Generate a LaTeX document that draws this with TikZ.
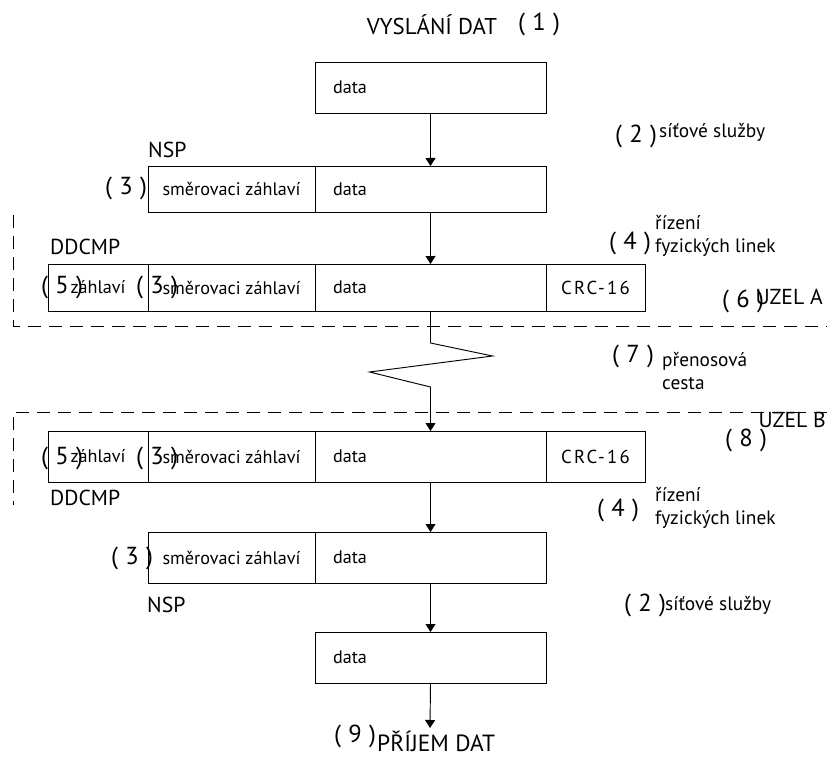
\documentclass[tikz,border=0pt]{standalone}
\usepackage{fontspec}
\setmainfont{PT Sans}
\usetikzlibrary{arrows.meta,positioning}
\newcommand\cis[1]{(\hspace{0.3em}#1\hspace{0.3em})}
\tikzset{
  pkt/.style={draw, line width=0.8pt, anchor=north west, inner sep=0pt, outer sep=0pt, font=\fontsize{15.5}{17}\selectfont},
  datapkt/.style={pkt, text width=5.85cm, inner xsep=0.54cm, align=left},
  crc/.style={pkt, minimum width=2.97cm, font=\fontsize{16}{17}\selectfont\addfontfeature{LetterSpace=12}},
  num/.style={font=\fontsize{21}{22}\selectfont, inner sep=0pt},
  capt/.style={font=\fontsize{18.5}{20}\selectfont, inner sep=0pt},
  note/.style={font=\fontsize{16.5}{19}\selectfont, align=left, inner sep=0pt},
  pre/.style={-{Triangle[length=2.4mm, width=3mm]}, line width=0.8pt},
  uzel/.style={dash pattern=on 0.39cm off 0.24cm, line width=0.7pt},
}
\begin{document}
\begin{tikzpicture}[x=0.03cm,y=-0.03cm]
\useasboundingbox (0,0) rectangle (827,758);
% ---------------- vyslani
\node[capt, font=\fontsize{19.5}{20}\selectfont] (vys) at (432,25) {VYSLÁNÍ DAT};
\node[num] (n1) at (539,24) {\cis{1}};
\node[datapkt, minimum height=1.53cm] (src) at (315,62) {data};
% ---------------- NSP (uzel A)
\node[capt, anchor=west] (nspAl) at (148,150) {NSP};
\node[pkt, minimum width=5.01cm, minimum height=1.38cm] (nspA) at (148,166) {směrovaci záhlaví};
\node[datapkt, minimum height=1.38cm] (nspAd) at (nspA.north east) {data};
\node[num] (n3a) at (126,188) {\cis{3}};
\node[num] (n2a) at (636,136) {\cis{2}};
\node[note, anchor=west] (sluA) at (659,132) {síťové služby};
% ---------------- DDCMP (uzel A)
\node[capt, anchor=west] (ddAl) at (50,247) {DDCMP};
\node[pkt, minimum width=3cm, minimum height=1.41cm] (ddA) at (48,264) {záhlaví};
\node[pkt, minimum width=5.01cm, minimum height=1.41cm] (ddAs) at (ddA.north east) {směrovaci záhlaví};
\node[datapkt, minimum height=1.41cm] (ddAd) at (ddAs.north east) {data};
\node[crc, minimum height=1.41cm] (ddAc) at (ddAd.north east) {CRC-16};
\node[num] (n5a) at (62,287) {\cis{5}};
\node[num] (n3b) at (157,287) {\cis{3}};
\node[num] (n4a) at (630,243) {\cis{4}};
\node[note, anchor=west] (linA) at (655,236) {řízení\\fyzických linek};
\node[num] (n6) at (743,301) {\cis{6}};
\node[capt, anchor=east] (uzA) at (823,297) {UZEL A};
\draw[uzel] (13,215) |- (827,326);
% ---------------- prenosova cesta
\node[num] (n7) at (633,356) {\cis{7}};
\node[note, anchor=west] (cesta) at (662,371) {přenosová\\cesta};
\draw[uzel] (827,412) -| (13,505);
% ---------------- DDCMP (uzel B)
\node[pkt, minimum width=3cm, minimum height=1.53cm] (ddB) at (48,431) {záhlaví};
\node[pkt, minimum width=5.01cm, minimum height=1.53cm] (ddBs) at (ddB.north east) {směrovaci záhlaví};
\node[datapkt, minimum height=1.53cm] (ddBd) at (ddBs.north east) {data};
\node[crc, minimum height=1.53cm] (ddBc) at (ddBd.north east) {CRC-16};
\node[num] (n5b) at (62,458) {\cis{5}};
\node[num] (n3c) at (157,458) {\cis{3}};
\node[num] (n8) at (746,440) {\cis{8}};
\node[capt, anchor=east] (uzB) at (826,420) {UZEL B};
\node[capt, anchor=west] (ddBl) at (50,498) {DDCMP};
\node[num] (n4b) at (618,510) {\cis{4}};
\node[note, anchor=west] (linB) at (655,508) {řízení\\fyzických linek};
% ---------------- NSP (uzel B)
\node[pkt, minimum width=5.01cm, minimum height=1.53cm] (nspB) at (148,532) {směrovaci záhlaví};
\node[datapkt, minimum height=1.53cm] (nspBd) at (nspB.north east) {data};
\node[num] (n3d) at (132,558) {\cis{3}};
\node[capt, anchor=west] (nspBl) at (147,605) {NSP};
\node[num] (n2b) at (645,605) {\cis{2}};
\node[note, anchor=west] (sluB) at (665,605) {síťové služby};
% ---------------- prijem
\node[datapkt, minimum height=1.53cm] (dst) at (315,632) {data};
\coordinate (rcv) at (430,728);
\node[num] (n9) at (355,736) {\cis{9}};
\node[capt, font=\fontsize{20}{21}\selectfont, anchor=base west] (prij) at (377,751) {PŘÍJEM DAT};
% ---------------- sipky
\draw[pre] (src.south) -- (nspAd.north);
\draw[pre] (nspAd.south) -- (ddAd.north);
\draw[pre] (ddAd.south) -- ++(0,32) -- ++(62,13) -- ++(-123,16) -- ++(61,15) -- (ddBd.north);
\draw[pre] (ddBd.south) -- (nspBd.north);
\draw[pre] (nspBd.south) -- (dst.north);
\draw[pre] (dst.south) -- (rcv);
\end{tikzpicture}
\end{document}
